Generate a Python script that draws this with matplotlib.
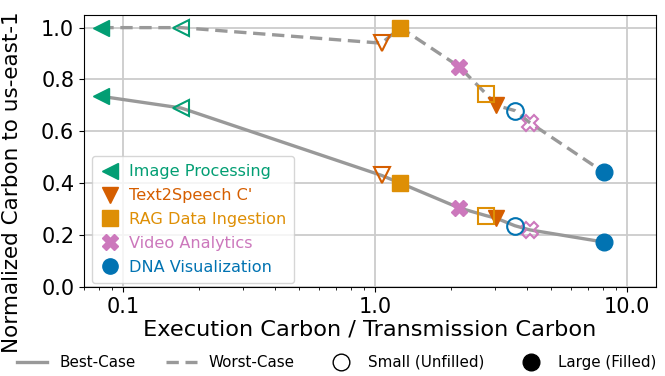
import numpy as np
import matplotlib
matplotlib.use("Agg")
import matplotlib.pyplot as plt
from matplotlib.lines import Line2D

apps = ["Image Processing", "Text2Speech C'", "RAG Data Ingestion",
        "Video Analytics", "DNA Visualization"]
colors = ["#029e73", "#d55e00", "#de8f05", "#cc78bc", "#0173b2"]
markers = ["<", "v", "s", "X", "o"]

# exec/transmission ratio, large (filled) and small (unfilled) inputs
x_large = [0.082, 3.02, 1.26, 2.15, 8.07]
x_small = [0.17, 1.06, 2.75, 4.1, 3.58]
best_large = [0.735, 0.265, 0.40, 0.305, 0.173]
best_small = [0.69, 0.43, 0.275, 0.22, 0.236]
worst_large = [1.0, 0.70, 1.0, 0.85, 0.442]
worst_small = [1.0, 0.94, 0.745, 0.634, 0.68]

GRAY = "#999999"
DASH = (0, (3.7, 2.0))

fig = plt.figure(figsize=(6.65, 3.76), dpi=100)
ax = fig.add_axes([0.1263, 0.237, 0.8602, 0.724])

xs = np.array(x_large + x_small)
order = np.argsort(xs)
best = np.array(best_large + best_small)[order]
worst = np.array(worst_large + worst_small)[order]
ax.plot(xs[order], best, color=GRAY, lw=2.4, ls="-", zorder=2)
ax.plot(xs[order], worst, color=GRAY, lw=2.4, ls=DASH, zorder=2)

for i, app in enumerate(apps):
    for yl, ys in [(best_large, best_small), (worst_large, worst_small)]:
        ax.plot(x_large[i], yl[i], marker=markers[i], ms=12, color=colors[i],
                mec=colors[i], ls="none", zorder=3)
        ax.plot(x_small[i], ys[i], marker=markers[i], ms=12, mfc="none",
                mec=colors[i], mew=1.5, ls="none", zorder=3)

ax.set_xscale("log")
ax.set_xlim(0.07, 13.0)
ax.set_ylim(0, 1.05)
ax.set_xticks([0.1, 1.0, 10.0])
ax.set_xticklabels(["0.1", "1.0", "10.0"])
ax.set_yticks([0.0, 0.2, 0.4, 0.6, 0.8, 1.0])
ax.tick_params(labelsize=15)
ax.grid(True, which="major", color="#cccccc", lw=1.3)
ax.set_axisbelow(True)
ax.set_xlabel("Execution Carbon / Transmission Carbon", fontsize=16.2, labelpad=2)
ax.set_ylabel("Normalized Carbon to us-east-1", fontsize=15.5)
ax.yaxis.set_label_coords(-0.108, 0.386)

handles = [Line2D([], [], marker=m, color=c, ls="none", ms=11)
           for m, c in zip(markers, colors)]
leg = ax.legend(handles, apps, loc="lower left", bbox_to_anchor=(0.014, 0.015),
                borderaxespad=0, fontsize=11.6, handletextpad=0.6, borderpad=0.5,
                labelspacing=0.55, handlelength=1.2)
for t, c in zip(leg.get_texts(), colors):
    t.set_color(c)

bottom = [Line2D([], [], color=GRAY, lw=2.4),
          Line2D([], [], color=GRAY, lw=2.4, ls=DASH),
          Line2D([], [], marker="o", mfc="none", mec="black", ls="none", ms=12),
          Line2D([], [], marker="o", color="black", ls="none", ms=12)]
fig.legend(bottom, ["Best-Case", "Worst-Case", "Small (Unfilled)", "Large (Filled)"],
           loc="lower center", bbox_to_anchor=(0.506, -0.02), ncol=4, frameon=False,
           fontsize=10.9, columnspacing=2.05, handlelength=2.0)

fig.savefig("out.png", dpi=100)
